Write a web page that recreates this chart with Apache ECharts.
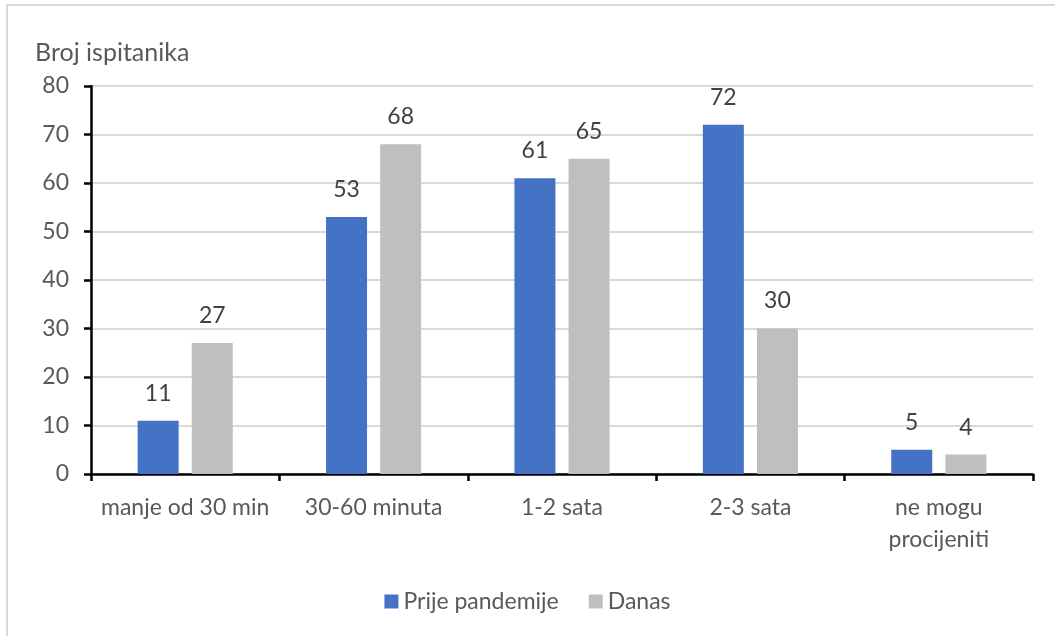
<!DOCTYPE html>
<html>
<head>
<meta charset="utf-8">
<script src="https://cdn.jsdelivr.net/npm/echarts@6/dist/echarts.min.js"></script>
<style>
  html, body { margin: 0; padding: 0; background: #fff; }
  #chart { width: 1055px; height: 636px; }
</style>
</head>
<body>
<div id="chart"></div>
<script>
// kategorije i vrijednosti ocitane sa slike
const categories = ['manje od 30 min', '30-60 minuta', '1-2 sata', '2-3 sata', 'ne mogu\nprocijeniti'];
const prijePandemije = [11, 53, 61, 72, 5];
const danas = [27, 68, 65, 30, 4];
const yTicks = [0, 10, 20, 30, 40, 50, 60, 70, 80];

const textFont = 'Lato';
const labelColor = '#595959';
const fontSize = 23;

const chart = echarts.init(document.getElementById('chart'));

const barLabel = {
    show: true,
    position: 'top',
    distance: 16,
    color: '#404040',
    fontFamily: textFont,
    fontSize: fontSize
};

chart.setOption({
    animation: false,
    backgroundColor: '#fff',
    textStyle: { fontFamily: textFont },
    graphic: [{
        type: 'rect',
        shape: { x: 7, y: 5, width: 1080, height: 700 },
        style: { fill: 'none', stroke: '#D9D9D9', lineWidth: 2 }
    }],
    title: {
        text: 'Broj ispitanika',
        left: 35,
        top: 40,
        padding: 0,
        textStyle: { fontFamily: textFont, fontSize: 25, fontWeight: 'normal', color: labelColor }
    },
    legend: {
        top: 585,
        left: 'center',
        itemWidth: 14,
        itemHeight: 14,
        itemGap: 30,
        icon: 'rect',
        textStyle: { fontFamily: textFont, fontSize: fontSize, color: labelColor },
        data: ['Prije pandemije', 'Danas']
    },
    grid: {
        left: 91,
        right: 22,
        top: 86,
        bottom: 162
    },
    xAxis: {
        type: 'category',
        data: categories,
        axisLine: { lineStyle: { color: '#000', width: 2.5 } },
        axisTick: { show: true, length: 7, lineStyle: { color: '#000', width: 2.5 } },
        axisLabel: {
            margin: 18,
            color: labelColor,
            fontFamily: textFont,
            fontSize: fontSize,
            lineHeight: 32,
            interval: 0
        }
    },
    yAxis: {
        type: 'value',
        min: yTicks[0],
        max: yTicks[yTicks.length - 1],
        interval: 10,
        axisLine: { show: true, lineStyle: { color: '#000', width: 2.5 } },
        axisTick: { show: true, length: 7, lineStyle: { color: '#000', width: 2.5 } },
        splitLine: { lineStyle: { color: '#D9D9D9', width: 2 } },
        axisLabel: {
            margin: 22,
            color: labelColor,
            fontFamily: textFont,
            fontSize: fontSize
        }
    },
    series: [
        {
            name: 'Prije pandemije',
            type: 'bar',
            data: prijePandemije,
            barWidth: 41,
            barGap: '32%',
            itemStyle: { color: '#4472C4' },
            label: barLabel
        },
        {
            name: 'Danas',
            type: 'bar',
            data: danas,
            barWidth: 41,
            barGap: '32%',
            itemStyle: { color: '#BFBFBF' },
            label: barLabel
        }
    ]
});
</script>
</body>
</html>
